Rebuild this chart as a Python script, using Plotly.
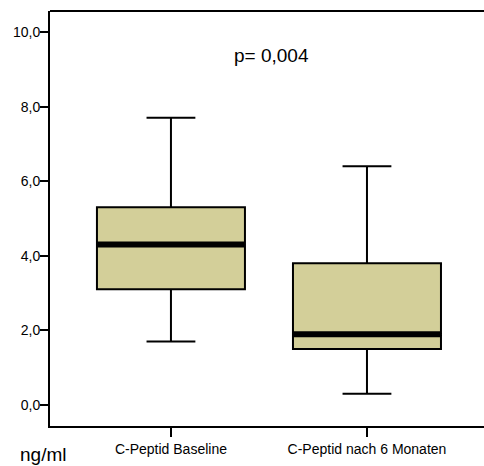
import plotly.graph_objects as go

# Box plot summary for C-peptide (ng/ml)
categories = ["C-Peptid Baseline", "C-Peptid nach 6 Monaten"]
lower_whisker = [1.7, 0.3]
q1 = [3.1, 1.5]
median = [4.3, 1.9]
q3 = [5.3, 3.8]
upper_whisker = [7.7, 6.4]
p_text = "p= 0,004"

positions = [0, 1]
box_width = 0.755
box_fill = "#D3CF99"
FONT = "Liberation Sans, Arial"

fig = go.Figure()

fig.add_trace(go.Box(
    x=positions,
    q1=q1, median=median, q3=q3,
    lowerfence=lower_whisker, upperfence=upper_whisker,
    width=box_width,
    whiskerwidth=0.33,
    fillcolor=box_fill,
    line=dict(color="black", width=2),
    boxpoints=False,
    hoverinfo="skip",
    showlegend=False,
))

# Thick median bars
for xpos, m in zip(positions, median):
    fig.add_trace(go.Scatter(
        x=[xpos - box_width / 2, xpos + box_width / 2],
        y=[m, m],
        mode="lines",
        line=dict(color="black", width=6),
        hoverinfo="skip",
        showlegend=False,
    ))

fig.add_annotation(
    x=0.515, y=9.36, xref="x", yref="y",
    text=p_text, showarrow=False,
    font=dict(family=FONT, size=19, color="black"),
)

fig.add_annotation(
    x=(43 - 50) / 434, y=-(454 - 426) / 415, xref="paper", yref="paper",
    xanchor="center", yanchor="middle",
    text="ng/ml", showarrow=False,
    font=dict(family=FONT, size=19, color="black"),
)

# top frame line
fig.add_shape(type="line", xref="paper", yref="paper",
              x0=0, x1=1, y0=1, y1=1,
              line=dict(color="black", width=2))

fig.update_layout(
    width=484, height=466,
    margin=dict(l=50, r=0, t=11, b=40),
    paper_bgcolor="white", plot_bgcolor="white",
    separators=",.",
    font=dict(family=FONT, size=14, color="black"),
    xaxis=dict(
        range=[-0.617, 1.597],
        tickvals=positions, ticktext=categories,
        ticks="outside", ticklen=9, tickwidth=2, tickcolor="black",
        showline=True, linecolor="black", linewidth=2,
        showgrid=False, zeroline=False,
        tickfont=dict(size=14),
    ),
    yaxis=dict(
        range=[-0.563, 10.563],
        tickvals=[0, 2, 4, 6, 8, 10],
        tickformat=".1f",
        ticks="outside", ticklen=8, tickwidth=2, tickcolor="black",
        ticklabelstandoff=-3,
        showline=True, linecolor="black", linewidth=2,
        showgrid=False, zeroline=False,
        tickfont=dict(size=14),
    ),
)

fig.write_html("out.html")
